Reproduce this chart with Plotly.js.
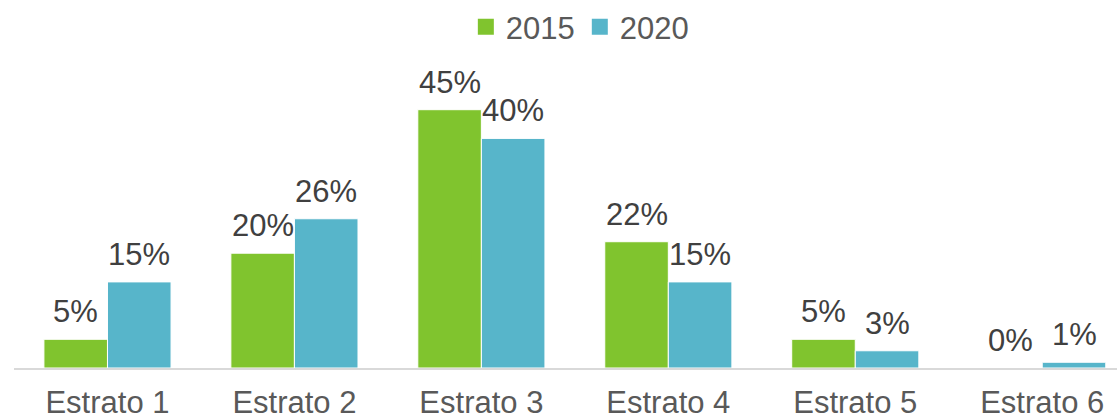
<!DOCTYPE html>
<html>
<head>
<meta charset="utf-8">
<script src="https://cdn.plot.ly/plotly-3.0.1.min.js"></script>
<style>html,body{margin:0;padding:0;background:#fff}#chart{width:1117px;height:420px}</style>
</head>
<body>
<div id="chart"></div>
<script>
const categories = ["Estrato 1", "Estrato 2", "Estrato 3", "Estrato 4", "Estrato 5", "Estrato 6"];
const values2015 = [5, 20, 45, 22, 5, 0];
const values2020 = [15, 26, 40, 15, 3, 1];
const seriesNames = ["2015", "2020"];
const colors = ["#80C42E", "#57B5CA"];

const fontFam = "Liberation Sans, Arial, sans-serif";
const FS = 31;
const bargap = 0.32;
const half = (1 - bargap) / 4;

function mkBar(name, vals, color) {
  return {
    type: "bar", name: name, x: categories.map((c, i) => i), y: vals,
    marker: {color: color, line: {color: "#ffffff", width: 1}},
    showlegend: false, hoverinfo: "skip"
  };
}
function mkLegend(name, color) {
  return {type: "scatter", mode: "markers", name: name, x: [null], y: [null],
          marker: {symbol: "square", size: 16, color: color}, hoverinfo: "skip"};
}
const data = [
  mkBar(seriesNames[0], values2015, colors[0]),
  mkBar(seriesNames[1], values2020, colors[1]),
  mkLegend(seriesNames[0], colors[0]),
  mkLegend(seriesNames[1], colors[1])
];
const annotations = [];
[values2015, values2020].forEach((vals, s) => {
  vals.forEach((v, i) => {
    annotations.push({
      x: i + (s === 0 ? -half : half), y: v, xref: "x", yref: "y",
      text: v + "%", showarrow: false, yanchor: "bottom", yshift: 8,
      font: {family: fontFam, size: FS, color: "#404040"}
    });
  });
});
const layout = {
  width: 1117, height: 420,
  margin: {l: 14, r: 0, t: 81, b: 52},
  paper_bgcolor: "#fff", plot_bgcolor: "#fff",
  barmode: "group", bargap: bargap, bargroupgap: 0.0,
  font: {family: fontFam, color: "#595959"},
  showlegend: true,
  legend: {orientation: "h", x: 0.513, xanchor: "center", y: 1.0, yref: "container", yanchor: "top",
           font: {family: fontFam, size: FS, color: "#595959"}, traceorder: "normal", itemwidth: 30},
  annotations: annotations,
  xaxis: {range: [-0.5, 5.4], showline: true, linecolor: "#d9d9d9", linewidth: 2,
          tickmode: "array", tickvals: categories.map((c, i) => i), ticktext: categories,
          tickfont: {family: fontFam, size: FS, color: "#595959"}, ticks: "", ticklabelstandoff: 6, fixedrange: true, showgrid: false, zeroline: false},
  yaxis: {range: [0, 50], visible: false, showgrid: false, zeroline: false, fixedrange: true}
};
Plotly.newPlot("chart", data, layout, {displayModeBar: false, staticPlot: true});
</script>
</body>
</html>
